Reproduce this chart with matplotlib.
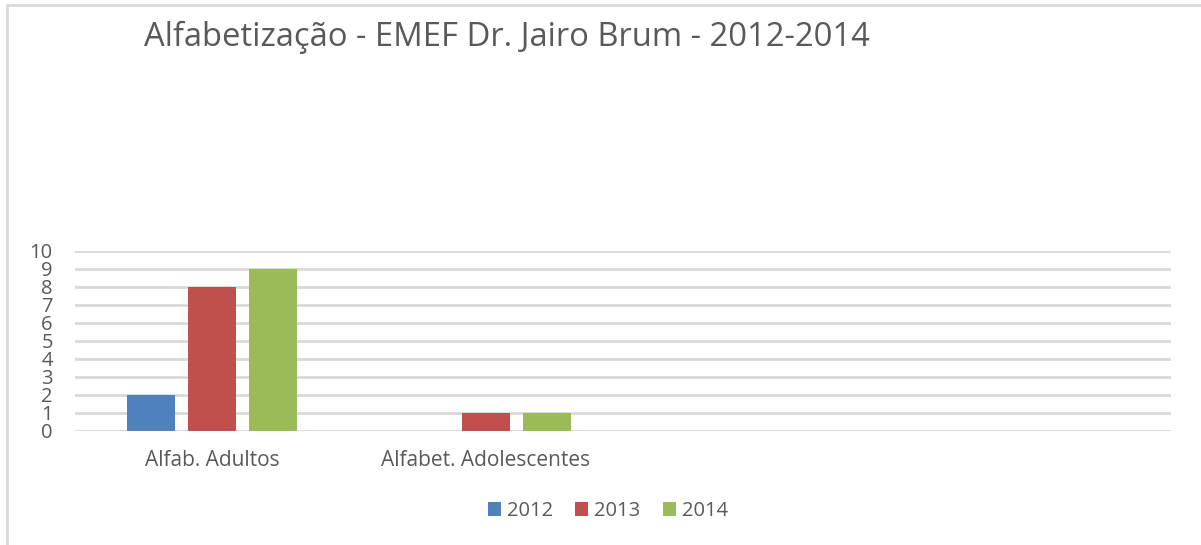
import matplotlib
matplotlib.use("Agg")
import matplotlib.pyplot as plt
import numpy as np
from matplotlib.patches import Rectangle

# data
categories = ["Alfab. Adultos", "Alfabet. Adolescentes", "", ""]
years = ["2012", "2013", "2014"]
v2012 = [2, 0, 0, 0]
v2013 = [8, 1, 0, 0]
v2014 = [9, 1, 0, 0]
yticks = list(range(0, 11))

COLORS = ["#4F81BD", "#C0504D", "#9BBB59"]
TXT = "#595959"
GRID = "#D9D9D9"

plt.rcParams["font.family"] = ["Open Sans", "DejaVu Sans"]

fig = plt.figure(figsize=(12.01, 5.45), dpi=100)
fig.patch.set_facecolor("white")
# light frame around the chart area
fig.add_artist(Rectangle((7 / 1201, -0.01), 1.02, 1 - 5 / 545 + 0.01,
                         transform=fig.transFigure, fill=False,
                         edgecolor="#D9D9D9", linewidth=2))

ax = fig.add_axes([75 / 1201, 1 - 431 / 545, 1096 / 1201, 180 / 545])

x = np.arange(len(categories))
w = 0.175
step = 0.2226
for i, (vals, c) in enumerate(zip([v2012, v2013, v2014], COLORS)):
    ax.bar(x + (i - 1) * step, vals, width=w, color=c, label=years[i], zorder=3)

ax.set_xlim(-0.5, len(categories) - 0.5)
ax.set_ylim(0, 10)
ax.set_yticks(yticks)
ax.set_yticklabels([str(t) for t in yticks], fontsize=14.5, color=TXT)
ax.set_xticks(x)
ax.set_xticklabels(categories, fontsize=15, color=TXT)
ax.tick_params(axis="y", length=0, pad=16)
ax.tick_params(axis="x", length=0, pad=14)
ax.grid(axis="y", color=GRID, linewidth=2, zorder=0)
for s in ax.spines.values():
    s.set_visible(False)

fig.text(507 / 1201, 1 - 37 / 545, "Alfabetização - EMEF Dr. Jairo Brum - 2012-2014",
         ha="center", va="center", fontsize=23.6, color=TXT)

fig.legend(loc="center", bbox_to_anchor=(608 / 1201, 1 - 511 / 545), ncol=3,
           frameon=False, fontsize=14.5, handlelength=0.65, handleheight=0.65,
           handletextpad=0.3, columnspacing=1.1, labelcolor=TXT)

fig.savefig("out.png", dpi=100)
